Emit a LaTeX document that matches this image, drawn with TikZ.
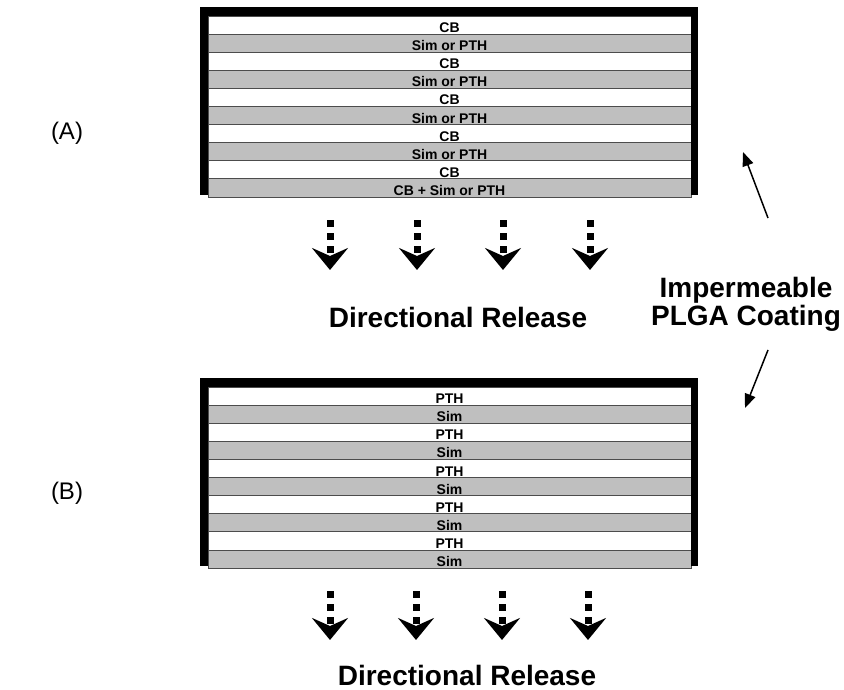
\documentclass[tikz,border=0pt]{standalone}
\usepackage{fontspec}
\setmainfont{Liberation Sans}
\usetikzlibrary{arrows.meta}

\begin{document}
\begin{tikzpicture}[
                x=1pt, y=-1pt,
                frame/.style={fill=black},
                layer/.style={rectangle,draw=black!70,line width=0.8pt,fill=#1,minimum width=483pt,minimum height=18.1pt,
                  inner sep=0pt,text height=16.6pt,text depth=1.5pt,font=\fontsize{14}{14}\selectfont\bfseries},
                release/.style={line width=7pt,dash pattern=on 7pt off 6pt,-{Stealth[length=22pt,width=36pt,inset=8pt]}},
                big/.style={font=\fontsize{28}{26}\selectfont\bfseries},
                coat/.style={line width=1.5pt,-{Triangle[length=14pt,width=11pt]}},
            ]
            \useasboundingbox (0,0) rectangle (844,690);

            % Define nodes
            \node[font=\fontsize{24}{24}\selectfont] (labA) at (67,133) {(A)};
            \node[font=\fontsize{24}{24}\selectfont] (labB) at (67,493) {(B)};

            % Stack (A)
            \foreach \i/\txt in {1/CB,2/Sim or PTH,3/CB,4/Sim or PTH,5/CB,6/Sim or PTH,7/CB,8/Sim or PTH,9/CB,10/CB + Sim or PTH} {
              \ifodd\i\def\lfill{white}\else\def\lfill{black!25}\fi
              \node[layer=\lfill] (A\i) at ({449.5},{16+(\i-0.5)*18.1}) {\txt};
            }
            \fill[frame] (200,7) rectangle (698,16);
            \fill[frame] (200,7) rectangle (208,195);
            \fill[frame] (691,7) rectangle (698,195);

            % Stack (B)
            \foreach \i/\txt in {1/PTH,2/Sim,3/PTH,4/Sim,5/PTH,6/Sim,7/PTH,8/Sim,9/PTH,10/Sim} {
              \ifodd\i\def\lfill{white}\else\def\lfill{black!25}\fi
              \node[layer=\lfill] (B\i) at ({449.5},{387+(\i-0.5)*18.1}) {\txt};
            }
            \fill[frame] (200,378) rectangle (698,387);
            \fill[frame] (200,378) rectangle (208,566);
            \fill[frame] (691,378) rectangle (698,566);

            % Draw release arrows
            \foreach \x in {330,417,503,590} {
              \coordinate (ra\x) at (\x,220);
              \coordinate (rb\x) at (\x,270);
              \draw[release] (ra\x) -- (rb\x);
            }
            \foreach \x [count=\k] in {330,416,502,588} {
              \coordinate (sa\k) at (\x,591);
              \coordinate (sb\k) at (\x,640);
              \draw[release] (sa\k) -- (sb\k);
            }
            \node[big,anchor=base] (relA) at (458,327) {Directional Release};
            \node[big,anchor=base] (relB) at (467,685) {Directional Release};

            % Coating label
            \node[big,align=center,anchor=base] (plga) at (746,325) {Impermeable\\PLGA Coating};
            \coordinate (ctA) at (768,218);
            \coordinate (tipA) at (743,152);
            \coordinate (ctB) at (768,350);
            \coordinate (tipB) at (745,408);
            \draw[coat] (ctA) -- (tipA);
            \draw[coat] (ctB) -- (tipB);

            \end{tikzpicture}
\end{document}
